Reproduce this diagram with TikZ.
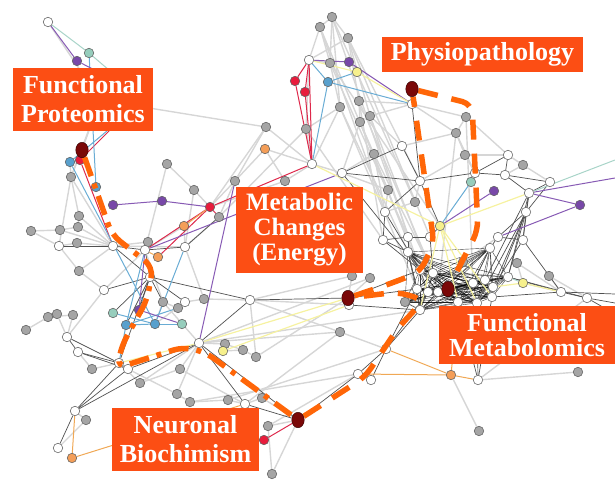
\documentclass[tikz,border=0pt]{standalone}
\usepackage{fontspec}
\setmainfont{Liberation Serif}
\usetikzlibrary{shapes.geometric}

\definecolor{ndgray}{RGB}{165,165,165}
\definecolor{ndline}{RGB}{95,95,95}
\definecolor{ndred}{RGB}{232,28,60}
\definecolor{ndblue}{RGB}{88,160,205}
\definecolor{ndpurple}{RGB}{120,72,168}
\definecolor{ndteal}{RGB}{150,205,188}
\definecolor{ndorange}{RGB}{244,158,88}
\definecolor{ndyellow}{RGB}{246,240,140}
\definecolor{hubred}{RGB}{122,8,8}
\definecolor{edgelight}{RGB}{214,214,214}
\definecolor{edgedark}{RGB}{80,80,80}
\definecolor{edgered}{RGB}{222,40,75}
\definecolor{edgeblue}{RGB}{105,172,212}
\definecolor{edgepurple}{RGB}{135,90,180}
\definecolor{edgeyellow}{RGB}{246,242,160}
\definecolor{edgeorange}{RGB}{240,168,85}
\definecolor{edgeteal}{RGB}{168,212,200}
\definecolor{lblfill}{RGB}{252,78,20}
\definecolor{trailorange}{RGB}{255,102,8}

\pgfdeclarelayer{edges}
\pgfdeclarelayer{trails}
\pgfdeclarelayer{top}
\pgfsetlayers{edges,main,trails,top}

\def\clusterlist{c1,c2,c3,c4,c5,c6,c7,c8,c9,c10,c11,c12,c13,w31,w43,g54,d4}

\begin{document}
\begin{tikzpicture}[x=1pt,y=-1pt,
    nd/.style={circle,draw=ndline,line width=0.55pt,inner sep=0pt,minimum size=9.5pt},
    hub/.style={ellipse,draw=black!60!hubred,fill=hubred,inner sep=0pt,minimum width=12.5pt,minimum height=15.5pt},
    lg/.style={draw=edgelight,line width=1.4pt},
    dg/.style={draw=edgedark,line width=0.7pt},
    mesh/.style={draw=black,line width=0.4pt,opacity=0.75},
    lbl/.style={fill=lblfill,text=white,align=center,inner sep=0pt,
      font=\bfseries\fontsize{26}{29}\selectfont},
    trail/.style={draw=trailorange,line width=5.5pt,rounded corners=10pt}]
  \useasboundingbox (0,0) rectangle (615,492);

  % grey nodes
  \foreach \n/\x/\y in {h1/130/88, h2/120/120, h3/100/100,
      g1/332/17, g2/320/27, g3/348/38, g4/330/63, g5/359/101, g6/340/107,
      g7/370/116, g8/360/122, g9/306/129, g10/266/127, g11/167/164, g12/71/177,
      g13/235/181, g14/285/181, g15/194/190, g16/219/217, g17/79/216, g18/78/227,
      g19/60/230, g20/31/231, g21/77/243, g22/148/242, g23/79/271, g24/163/302,
      g25/204/299, g26/178/308, g27/57/314, g28/48/317, g29/73/315, g30/26/330,
      g31/225/344, g32/243/350, g33/256/357, g34/92/369, g35/180/369, g36/140/383,
      g37/177/394, g38/190/402, g39/228/400, g40/262/398, g41/86/420, g42/268/426,
      g43/272/474, g44/466/117, g45/456/133, g46/465/155, g47/374/154, g48/523/165,
      g49/388/190, g50/415/202, g51/463/262, g52/352/276, g53/370/278, g54/405/302,
      g55/340/332, g56/517/263, g57/549/276, g58/578/372, g59/479/431}
    \node[nd,fill=ndgray] (\n) at (\x,\y) {};

  % white nodes
  \foreach \n/\x/\y in {w1/48/22, w2/309/60, w3/412/104, w4/312/164, w5/342/173,
      w6/402/146, w7/420/181, w8/475/173, w9/505/175, w10/550/182, w11/508/155,
      w12/529/193, w13/526/212, w14/385/212, w15/59/246, w16/113/246, w17/145/250,
      w18/185/247, w19/104/290, w20/185/302, w21/250/300, w22/67/337, w23/78/352,
      w24/199/343, w25/119/363, w26/128/369, w27/245/404, w28/75/411, w29/58/448,
      w30/349/305, w31/420/310, w32/386/349, w33/358/374, w34/371/380, w35/478/380,
      w36/561/292, w37/587/298, w38/498/237, w39/523/240, w40/383/240, w41/408/237,
      w42/430/237, w43/408/252, w44/150/277,
      c1/420/270, c2/433/273, c3/417/289, c4/428/292, c5/438/292, c6/473/283,
      c7/485/280, c8/493/287, c9/492/297, c10/508/277, c11/458/302, c12/477/303,
      c13/490/248}
    \node[nd,fill=white] (\n) at (\x,\y) {};

  % coloured nodes
  \foreach \n/\x/\y/\c in {t1/89/53/ndteal, p1/77/61/ndpurple, r1/80/160/ndred,
      b1/70/162/ndblue, b2/96/187/ndblue, p2/113/205/ndpurple, p3/162/201/ndpurple,
      r2/210/207/ndred, o1/265/149/ndorange, o2/184/226/ndorange, r3/295/81/ndred,
      r4/305/92/ndred, p4/349/62/ndpurple, y1/357/72/ndyellow, b3/328/82/ndblue,
      o3/158/257/ndorange, p5/139/310/ndpurple, t2/113/313/ndteal, b4/126/325/ndblue,
      b5/155/324/ndblue, t3/182/324/ndteal, y2/223/351/ndyellow, o4/72/458/ndorange,
      r5/264/440/ndred, t4/471/182/ndteal, p6/494/191/ndpurple, p7/580/205/ndpurple,
      y3/440/226/ndyellow, y4/523/283/ndyellow, o5/451/375/ndorange}
    \node[nd,fill=\c] (\n) at (\x,\y) {};

  \coordinate (e1) at (615,160);
  \coordinate (e2) at (615,178);
  \coordinate (e3) at (615,294);
  \coordinate (e4) at (615,303);
  \coordinate (e5) at (615,314);

  % hubs on the path
  \begin{pgfonlayer}{top}
    \node[hub] (d1) at (82,150) {};
    \node[hub] (d2) at (412,89) {};
    \node[hub] (d3) at (348,298) {};
    \node[hub] (d4) at (448,289) {};
    \node[hub] (d5) at (298,420) {};
  \end{pgfonlayer}

  \begin{pgfonlayer}{edges}
    % light links
    \foreach \a/\b in {h3/d1, h3/g10, h3/w1, h3/g12, d1/g12, b1/g12, g12/w15, g12/g17,
        g12/w16, g1/g2, g1/g3, g2/g4, g1/g4, g2/w2, g3/w2, g1/g6, g3/g5, g3/g7,
        g4/w2, g4/g6, g5/g8, g5/w3, g6/g9, g7/g8, g7/w3, g8/g47, g6/w4, g9/w4,
        g9/w2, g10/w4, g10/r2, g10/g13, g13/r2, g13/g16, g14/w4, g14/r2, g16/w18,
        g11/w17, g11/g15, g15/w18, g15/r2, o1/g14, o1/g13, o1/w4, g47/w14, g5/w40,
        g7/w41, g8/c1, g6/w43, g3/w42, g4/y3, g47/c2, g9/g16, g2/w14, g1/c4,
        g5/c2, g8/c4, g6/c3, g9/w40, g4/w41, g2/g49, g1/g50, g3/w7, g7/c5,
        w5/w4, w5/g47, w6/g45, g44/g45, g44/w3, g44/w11, g45/w8, g46/w8, g46/w11,
        g46/g45, g48/w11, g48/w10, g48/w9, w3/g45, g8/w5, g7/w6,
        g17/g18, g18/g19, g19/g20, g17/w16, g18/w16, g19/w16, g21/w15, g21/w16,
        g20/w15, g23/w19, g23/w16, g23/w15, g22/w17, g22/w16, o2/w17, o2/w18,
        w16/w18, w17/w19, g27/g28, g28/g29, g29/w22, g27/w22, g30/g28, w22/w19,
        g24/g26, g26/w20, g24/b5, g25/w20, g25/w21, g31/g32, g32/g33, g31/w24,
        y2/g31, g32/y2, g33/w21, g34/w25, g34/w23, g35/w24, g36/w25, g36/w24,
        g37/g38, g37/w24, g38/g39, g39/w27, g40/w27, g40/d5, g42/d5, g43/g42,
        g43/d5, g41/w28, w29/g41, g36/g35, g37/w26, g24/w17, g25/w18, w20/b5,
        w24/w31, w21/g55, g55/w32, g55/w24, g33/d3, g52/d3, g53/d3, g52/w21,
        w21/w30, w24/g53, w27/g55, g38/w33, g39/w32, g42/w33, w24/g24, g35/w27,
        g56/w36, g57/w36, g57/w37, g56/y4, y4/w36, g58/w35, g59/o5, g50/w14,
        g50/w7, g49/w14, g49/w5, g51/c13, g51/w38, g54/w31, g54/c3, w35/w37,
        g46/w7, g45/c5, g44/c6}
      \draw[lg] (\a) -- (\b);

    % dense core
    \foreach \a [count=\i] in \clusterlist {
      \foreach \b [count=\j] in \clusterlist {
        \ifnum\j>\i \draw[mesh] (\a) -- (\b); \fi
      }
    }

    % dark links
    \foreach \a/\b in {w15/w16, w16/w17, w17/w18, w18/g16, w17/w44, w44/w19, w44/b4,
        w44/p5, w44/w25, w44/g24, w44/w20, w44/w21, w44/t2, w16/w44, w22/w23,
        w23/w25, w22/w25, w23/w26, w25/w26, w26/w24, w24/w28, w24/w27, w24/w21,
        w28/w29, w28/w26, w28/w25, w27/d5, w24/d5, w33/d5, w33/w34, w34/w32,
        w32/w31, w33/w32, w31/c3, w32/c3, w32/c4, w30/w31, d3/w30, d3/c3, d3/c1,
        d3/w21, w3/w7, w6/w5, w6/w7, w5/w7, w7/w8, w8/w9, w9/w10, w7/y3, w7/w14,
        w14/w40, w40/w41, w41/w42, w42/y3, w43/c3, w43/w40, w41/w43, w10/w12,
        w12/w13, w13/w38, w13/w39, w12/w39, w9/w11, w8/w11, w9/w12, w10/w13,
        w36/w37, w39/w36, w38/w39, c10/w36, c10/w37, w13/c10, w13/c8, w13/c9,
        w13/c12, w12/c10, w39/c8, w38/c13, c13/c6, w42/c2, w35/c12, w35/c11,
        w35/c9, w40/c1, w14/c1, w5/c1, w36/e3, w37/e4, w37/e5, w36/c9, w12/c7}
      \draw[dg] (\a) -- (\b);

    % coloured links
    \foreach \a/\b in {w2/r3, w2/r4, r3/w4, r4/w4, w2/w4, w4/r2, r2/w17, r2/o3,
        r2/g16, r1/h2, r1/w16, r5/d5}
      \draw[draw=edgered,line width=1pt] (\a) -- (\b);
    \foreach \a/\b in {b2/t1, b1/h2, b1/b5, b4/b5, b5/w18, b4/w25, t2/b5, b5/t3,
        w17/b4, b3/w2, b3/y1, b3/w4, b3/w3, t4/y3, b4/g26}
      \draw[draw=edgeblue,line width=1pt] (\a) -- (\b);
    \foreach \a/\b in {w1/p1, p1/h1, p2/p3, p3/r2, p4/w2, p4/w3, p5/w17, p5/t3,
        w24/g13, p6/y3, p7/w12, p7/w38, w12/e2, w17/w5}
      \draw[draw=edgepurple,line width=1pt] (\a) -- (\b);
    \foreach \a/\b in {w2/y1, y1/w3, w4/y3, y3/w12, w24/d3, y2/w30, w25/w24,
        y3/c11, y3/c12, y3/c9, y3/w31, y4/c8, y4/w36}
      \draw[draw=edgeyellow,line width=1.2pt] (\a) -- (\b);
    \foreach \a/\b in {o4/w28, o4/w27, o5/w33, o5/w32, o5/w35, o5/c11, o3/w17, o2/r2}
      \draw[draw=edgeorange,line width=1pt] (\a) -- (\b);
    \foreach \a/\b in {w1/t1, t1/h1, w12/e1, t4/w8, y4/c10}
      \draw[draw=edgeteal,line width=1pt] (\a) -- (\b);
  \end{pgfonlayer}

  % the route through the network
  \begin{pgfonlayer}{trails}
    \draw[trail,dash pattern=on 20pt off 8pt on 5pt off 8pt]
      (d1) -- (112,235) -- (153,267) -- (147,300) -- (122,345) -- (117,368)
      -- (183,347) -- (205,352) -- (d5);
    \draw[trail,dash pattern=on 20pt off 14pt]
      (d5) -- (365,377) -- (398,328) -- (424,300) -- (398,292) -- (d3);
    \draw[trail,dash pattern=on 20pt off 14pt]
      (d3) -- (392,283) -- (420,272) -- (434,243) -- (d2);
    \draw[trail,dash pattern=on 20pt off 14pt]
      (d2) -- (472,104) -- (478,230) -- (d4);
  \end{pgfonlayer}

  % labels
  \begin{pgfonlayer}{top}
    \node[lbl,minimum width=140pt,minimum height=63pt] (lbProt) at (83,99.5)
      {Functional\\Proteomics};
    \node[lbl,minimum width=201pt,minimum height=35pt] (lbPhys) at (482.5,54.5)
      {Physiopathology};
    \node[lbl,minimum width=127pt,minimum height=86pt,
      font=\bfseries\fontsize{25}{25}\selectfont] (lbMeta) at (299.5,230)
      {Metabolic\\Changes\\(Energy)};
    \node[lbl,minimum width=147pt,minimum height=63pt] (lbNeur) at (185.5,439.5)
      {Neuronal\\Biochimism};
    \node[lbl,minimum width=176pt,minimum height=58pt,
      font=\bfseries\fontsize{26}{25}\selectfont] (lbFmet) at (527,335)
      {Functional\\Metabolomics};
  \end{pgfonlayer}
\end{tikzpicture}
\end{document}
